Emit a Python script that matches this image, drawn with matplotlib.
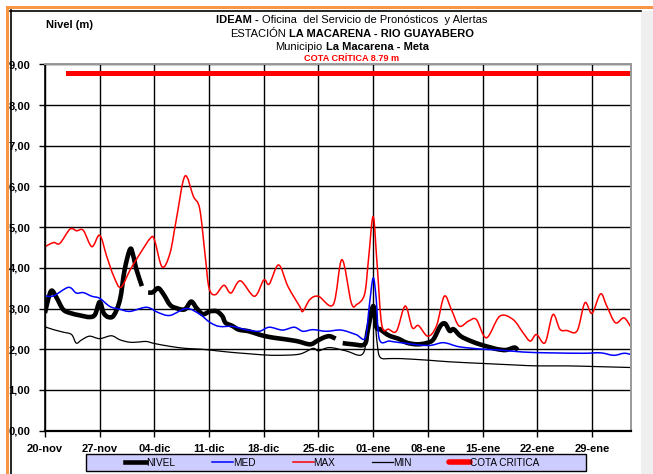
import matplotlib
matplotlib.use('Agg')
import matplotlib.pyplot as plt
from matplotlib.lines import Line2D
from matplotlib.patches import Rectangle, PathPatch
from matplotlib.path import Path
import numpy as np

plt.rcParams['font.family'] = ['Liberation Sans', 'DejaVu Sans']

# ---- data (days since 20-nov) ----
tick_days = [0, 7, 14, 21, 28, 35, 42, 49, 56, 63, 70]
tick_labels = ['20-nov', '27-nov', '04-dic', '11-dic', '18-dic', '25-dic',
               '01-ene', '08-ene', '15-ene', '22-ene', '29-ene']
x_end = 75

nivel_days = [0, 0.4, 0.85, 1.5, 2.3, 3.2, 4.5, 5.7, 6.4, 7, 7.5, 8.1, 8.8, 9.6,
              10.2, 10.9, 11.3, 11.7, 12.4, 12.8, 13.2, 13.8, 14.5, 15.2, 16,
              16.8, 17.9, 18.7, 19.4, 20.2, 21.1, 22, 22.7, 23.1, 24, 24.8, 26.1,
              27.4, 28.7, 30.1, 32.2, 33.9, 34.8, 35.6, 36.4, 37.2, 37.6, 38.1,
              39.4, 40.9, 41.3, 42, 42.4, 42.9, 43.5, 44.2, 45.2, 46.3, 47.6,
              48.8, 49.7, 50.6, 51.2, 51.8, 52.3, 53.2, 54.5, 55.8, 57.1, 57.9,
              59, 60.1, 60.5]
nivel = [2.89, 3.22, 3.44, 3.26, 2.98, 2.89, 2.83, 2.79, 2.85, 3.16, 2.89, 2.79,
         2.83, 3.22, 3.96, 4.46, 4.29, 3.96, 3.55, np.nan, 3.39, 3.40, 3.50, 3.34,
         3.09, 3.01, 2.98, 3.17, 3.01, 2.86, 2.93, 2.93, 2.81, 2.65, 2.57, 2.48,
         2.44, 2.36, 2.30, 2.26, 2.20, 2.12, 2.20, 2.28, 2.32, 2.26, np.nan, 2.15,
         2.12, 2.12, 2.45, 3.06, 2.55, 2.49, 2.40, 2.32, 2.26, 2.16, 2.12, 2.15,
         2.24, 2.57, 2.63, 2.45, 2.49, 2.32, 2.20, 2.11, 2.04, 2.00, 1.98, 2.04,
         1.97]

med_days = [0, 1.1, 3, 4, 4.9, 6, 7, 8.3, 9.6, 10.9, 13, 14.5, 16, 18.1, 19.8,
            21.1, 22.3, 24, 25.7, 27.4, 28.7, 30.4, 31.9, 33, 34.3, 36, 37.9,
            39.8, 41, 41.5, 42, 42.4, 42.8, 44.1, 45.5, 49, 51, 53, 56, 58.2,
            61.2, 64.6, 68.9, 71.1, 72.8, 74.1, 75]
med = [3.31, 3.31, 3.52, 3.38, 3.39, 3.30, 3.25, 3.05, 2.98, 2.93, 3.03, 2.90,
       2.83, 3.00, 2.86, 2.66, 2.56, 2.56, 2.48, 2.44, 2.54, 2.47, 2.54, 2.44,
       2.48, 2.44, 2.47, 2.36, 2.28, 3.06, 3.75, 3.22, 2.24, 2.20, 2.16, 2.09,
       2.16, 2.06, 2.00, 1.98, 1.93, 1.91, 1.90, 1.91, 1.85, 1.90, 1.87]

max_days = [0, 1.1, 1.9, 3.2, 4.05, 4.9, 6, 7, 7.9, 8.8, 9.7, 10.9, 12.2, 13.5,
            14, 15, 16, 16.8, 17.9, 19, 19.8, 20.5, 21, 21.8, 22.9, 23.8, 25,
            26.8, 28, 28.7, 29.9, 31.1, 32.6, 33, 33.9, 35, 36.9, 38, 39.2, 39.9,
            40.9, 41.4, 42, 42.5, 43.1, 44, 45, 46.1, 47, 47.8, 49, 50.1, 51.1,
            52, 53, 54.2, 55.2, 56.5, 58.2, 59.9, 61.2, 62.1, 62.9, 64, 65, 65.9,
            66.8, 68.1, 69.1, 70, 71.1, 71.9, 73, 74.1, 75]
max_ = [4.52, 4.62, 4.60, 4.95, 4.91, 4.92, 4.52, 4.80, 4.28, 3.79, 3.52, 3.95,
        4.36, 4.73, 4.69, 4.02, 4.36, 5.18, 6.25, 5.75, 5.45, 4.30, 3.50, 3.34,
        3.57, 3.38, 3.68, 3.30, 3.70, 3.60, 4.07, 3.54, 3.05, 2.93, 3.22, 3.30,
        3.10, 4.20, 3.14, 3.10, 3.35, 4.20, 5.26, 4.10, 2.60, 2.49, 2.45, 3.06,
        2.53, 2.58, 2.32, 2.57, 3.30, 2.98, 2.57, 2.69, 2.73, 2.28, 2.81, 2.73,
        2.40, 2.20, 2.36, 2.16, 2.85, 2.49, 2.46, 2.45, 3.14, 2.88, 3.36, 3.06,
        2.65, 2.77, 2.54]

min_days = [0, 1.1, 2.3, 3.4, 4, 4.7, 5.7, 7, 8.5, 9.6, 10.9, 12.2, 13, 14, 16,
            18, 20, 22, 24, 26, 28, 30.1, 32.6, 34.3, 35, 36.4, 38.5, 40.5, 41.2,
            42, 42.5, 42.9, 44.2, 45.5, 49, 51.8, 56, 60.4, 63, 66.8, 71.1, 75]
min_ = [2.55, 2.48, 2.42, 2.36, 2.15, 2.23, 2.32, 2.26, 2.33, 2.23, 2.17, 2.18,
        2.19, 2.14, 2.07, 2.02, 2.00, 1.96, 1.92, 1.89, 1.86, 1.85, 1.88, 2.02,
        1.96, 2.04, 1.96, 1.86, 2.24, 3.06, 2.16, 1.80, 1.77, 1.77, 1.73, 1.69,
        1.65, 1.61, 1.59, 1.59, 1.57, 1.55]

cota = 8.79
cota_days = [3, 75]

W, H = 653, 474


def fx(px):
    return px / W


def fy(py):
    return 1 - py / H


def smooth_line(ax, xs, ys, **kw):
    # Excel-style smoothed line: cubic Bezier through the points, split at gaps
    xs = np.asarray(xs, float)
    ys = np.asarray(ys, float)
    idx = np.flatnonzero(~np.isnan(ys))
    runs = np.split(idx, np.flatnonzero(np.diff(idx) > 1) + 1)
    for r in runs:
        p = np.column_stack([xs[r], ys[r]])
        verts = [p[0]]
        codes = [Path.MOVETO]
        for i in range(len(p) - 1):
            p0 = p[i - 1] if i > 0 else p[i]
            p3 = p[i + 2] if i + 2 < len(p) else p[i + 1]
            verts += [p[i] + (p[i + 1] - p0) / 6, p[i + 1] - (p3 - p[i]) / 6, p[i + 1]]
            codes += [Path.CURVE4] * 3
        ax.add_patch(PathPatch(Path(verts, codes), fill=False, **kw))


fig = plt.figure(figsize=(W / 100, H / 100), dpi=100)

# frame around the chart
fig.add_artist(Rectangle((fx(6), fy(9)), fx(653 - 6), 3 / H, transform=fig.transFigure,
                         facecolor='#F79646', edgecolor='none'))
fig.add_artist(Rectangle((fx(6), 0), 3 / W, fy(6), transform=fig.transFigure,
                         facecolor='#F79646', edgecolor='none'))
fig.add_artist(Rectangle((fx(641), 0), fx(12), fy(11), transform=fig.transFigure,
                         facecolor='#EFEFEF', edgecolor='none'))
fig.add_artist(Line2D([fx(10), fx(641)], [fy(10.5), fy(10.5)], transform=fig.transFigure,
                      color='black', lw=1.2))
fig.add_artist(Line2D([fx(10.5), fx(10.5)], [0, fy(10)], transform=fig.transFigure,
                      color='black', lw=1.2))

ax = fig.add_axes([fx(45), fy(430.6), fx(631) - fx(45), fy(64.3) - fy(430.6)])

smooth_line(ax, nivel_days, nivel, edgecolor='black', lw=3.3, joinstyle='round', capstyle='butt')
smooth_line(ax, med_days, med, edgecolor='#0000FF', lw=1.1)
smooth_line(ax, max_days, max_, edgecolor='#FF0000', lw=1.1)
smooth_line(ax, min_days, min_, edgecolor='black', lw=0.9)
ax.plot(cota_days, [cota, cota], color='#FF0000', lw=3.6)

ax.set_xlim(0, x_end)
ax.set_ylim(0, 9)
ax.set_xticks(tick_days)
ax.set_xticklabels(tick_labels, fontsize=8, fontweight='bold')
yt = np.arange(0, 10)
ax.set_yticks(yt)
ax.set_yticklabels([f'{v:.2f}'.replace('.', ',') for v in yt], fontsize=8, fontweight='bold')
ax.tick_params(axis='both', direction='out', length=4.5, width=1.0, color='black')
ax.tick_params(axis='y', pad=6)
ax.tick_params(axis='x', pad=5)
ax.grid(True, color='black', lw=1.0)
ax.set_axisbelow(True)
for s in ['left', 'bottom']:
    ax.spines[s].set_color('black')
ax.spines['left'].set_linewidth(1.2)
ax.spines['bottom'].set_linewidth(1.6)
for s in ['top', 'right']:
    ax.spines[s].set_color('#999999')
    ax.spines[s].set_linewidth(1.4)

# titles with mixed weights
fig.canvas.draw()
renderer = fig.canvas.get_renderer()


def rich_line(y_px, parts, size, color='black', cx=352):
    sp = size * 0.278 * 100 / 72
    texts = [fig.text(0, fy(y_px), s, fontsize=size, fontweight=w, color=color,
                      ha='left', va='baseline') for s, w in parts]
    widths = [t.get_window_extent(renderer).width for t in texts]
    total = sum(widths) + sp * (len(texts) - 1)
    x = cx - total / 2
    for t, w in zip(texts, widths):
        t.set_x(fx(x))
        x += w + sp


rich_line(23.3, [('IDEAM -', 'bold'), ('Oficina  del Servicio de Pronósticos  y Alertas', 'normal')], 8)
rich_line(36.7, [('ESTACIÓN', 'normal'), ('LA MACARENA - RIO GUAYABERO', 'bold')], 8)
rich_line(50, [('Municipio', 'normal'), ('La Macarena - Meta', 'bold')], 8)
rich_line(61, [('COTA CRÍTICA 8.79 m', 'bold')], 6.6, color='#FF0000')

fig.text(fx(46), fy(28), 'Nivel (m)', fontsize=8, fontweight='bold', va='baseline', ha='left')

# legend
fig.add_artist(Rectangle((fx(86), fy(471)), fx(586) - fx(86), fy(454) - fy(471),
                         transform=fig.transFigure, facecolor='#CCCCFF',
                         edgecolor='black', lw=1.0))
handles = [Line2D([], [], color='black', lw=3.3),
           Line2D([], [], color='#0000FF', lw=1.1),
           Line2D([], [], color='#FF0000', lw=1.1),
           Line2D([], [], color='black', lw=0.9),
           Line2D([], [], color='#FF0000', lw=4.0, solid_capstyle='round')]
labels = ['NIVEL', 'MED', 'MAX', 'MIN', 'COTA CRITICA']
leg = fig.legend(handles, labels, ncol=5, frameon=False, loc='center left',
                 bbox_to_anchor=(fx(125), fy(462.5)), fontsize=7.2,
                 handlelength=2.1, handletextpad=0.0, columnspacing=3.7,
                 borderpad=0, borderaxespad=0)

fig.savefig('out.png', dpi=100)
